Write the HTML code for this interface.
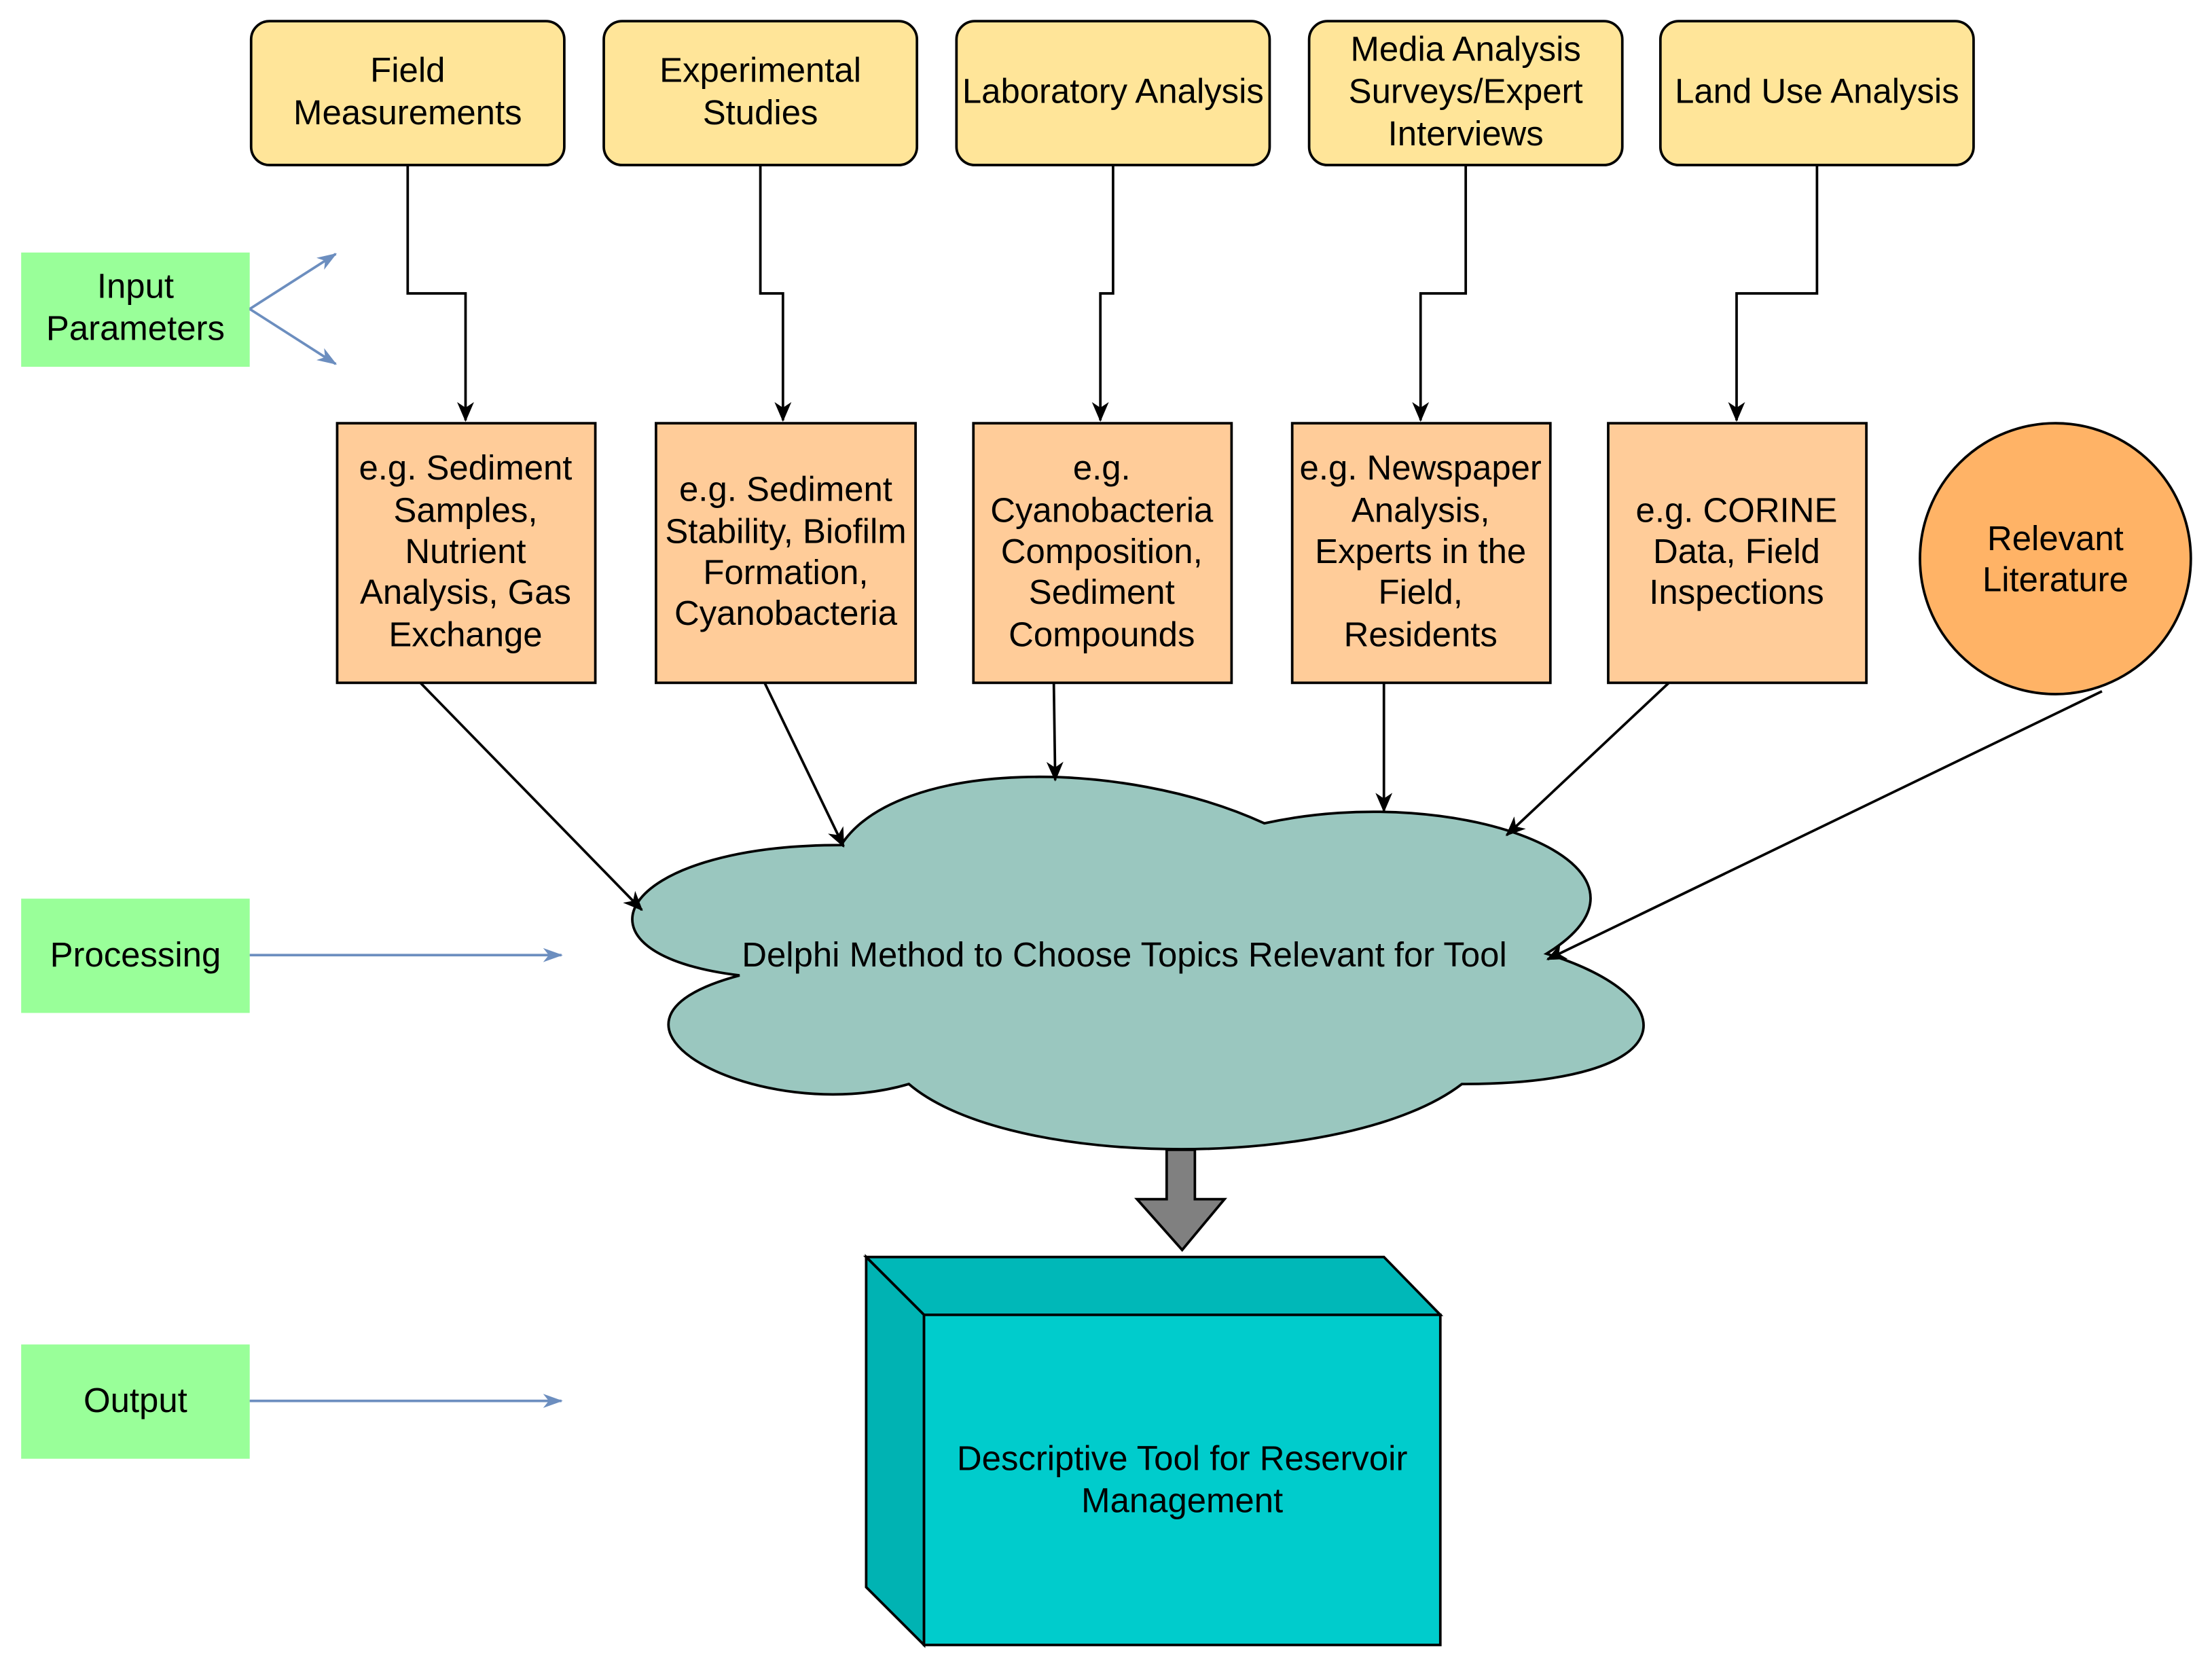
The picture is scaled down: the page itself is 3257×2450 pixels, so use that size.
<!DOCTYPE html>
<html><head><meta charset="utf-8"><style>html,body{margin:0;padding:0;background:#fff}svg{display:block}text{font-family:"Liberation Sans",Arial,sans-serif;font-size:24.5px;fill:#000}</style></head><body>
<svg width="3257" height="2450" viewBox="0 0 1568 1179.5" xmlns="http://www.w3.org/2000/svg">
<defs>
<marker id="ab" markerWidth="14" markerHeight="14" refX="13" refY="7" orient="auto" markerUnits="userSpaceOnUse"><path d="M0,1 L14,7 L0,13 L4,7 Z" fill="#000"/></marker>
<marker id="ablue" markerWidth="14" markerHeight="12" refX="13" refY="6" orient="auto" markerUnits="userSpaceOnUse"><path d="M0,1 L14,6 L0,11 L4,6 Z" fill="#6c8ebf"/></marker>
</defs>
<g stroke="#000" stroke-width="1.8" fill="#ffe599">
<rect x="178" y="15" width="222" height="102" rx="13"/>
<rect x="428" y="15" width="222" height="102" rx="13"/>
<rect x="678" y="15" width="222" height="102" rx="13"/>
<rect x="928" y="15" width="222" height="102" rx="13"/>
<rect x="1177" y="15" width="222" height="102" rx="13"/>
</g>
<g stroke="#000" stroke-width="1.8" fill="#ffcc99">
<rect x="239" y="300" width="183" height="184"/>
<rect x="465" y="300" width="184" height="184"/>
<rect x="690" y="300" width="183" height="184"/>
<rect x="916" y="300" width="183" height="184"/>
<rect x="1140" y="300" width="183" height="184"/>
</g>
<circle cx="1457" cy="396" r="96" fill="#ffb366" stroke="#000" stroke-width="1.8"/>
<g fill="#99ff99">
<rect x="15" y="179" width="162" height="81"/>
<rect x="15" y="637" width="162" height="81"/>
<rect x="15" y="953" width="162" height="81"/>
</g>
<g stroke="#6c8ebf" stroke-width="1.8" fill="none" marker-end="url(#ablue)">
<line x1="177" y1="219" x2="238" y2="180"/>
<line x1="177" y1="219" x2="238" y2="258"/>
<line x1="177" y1="677" x2="398" y2="677"/>
<line x1="177" y1="993" x2="398" y2="993"/>
</g>
<g stroke="#000" stroke-width="1.8" fill="none" marker-end="url(#ab)">
<polyline points="289,117 289,208 330,208 330,298"/>
<polyline points="539,117 539,208 555,208 555,298"/>
<polyline points="789,117 789,208 780,208 780,298"/>
<polyline points="1039,117 1039,208 1007,208 1007,298"/>
<polyline points="1288,117 1288,208 1231,208 1231,298"/>
</g>
<path d="M596.25,599 C436.25,599 396.25,676 524.25,691.4 C396.25,725.3 540.25,799.2 644.25,768.4 C716.25,830 956.25,830 1036.25,768.4 C1196.25,768.4 1196.25,706.8 1096.25,676 C1196.25,614.4 1036.25,552.8 896.25,583.6 C796.25,537.4 636.25,537.4 596.25,599 Z" fill="#9ac7bf" stroke="#000" stroke-width="1.8"/>
<g stroke="#000" stroke-width="1.8" fill="none" marker-end="url(#ab)">
<line x1="298" y1="484" x2="455" y2="645"/>
<line x1="542" y1="484" x2="598" y2="600"/>
<line x1="747" y1="484" x2="748" y2="553"/>
<line x1="981" y1="484" x2="981" y2="575"/>
<line x1="1183" y1="484" x2="1068" y2="592"/>
<line x1="1490" y1="490" x2="1097" y2="680"/>
</g>
<path d="M827,815 L847,815 L847,850 L868,850 L838,886 L806,850 L827,850 Z" fill="#808080" stroke="#000" stroke-width="1.8"/>
<path d="M614,891 L981,891 L1021,932 L655,932 Z" fill="#00b8b8" stroke="#000" stroke-width="1.8"/>
<path d="M614,891 L655,932 L655,1166 L614,1125 Z" fill="#00b3b3" stroke="#000" stroke-width="1.8"/>
<rect x="655" y="932" width="366" height="234" fill="#00cccc" stroke="#000" stroke-width="1.8"/>
<g text-anchor="middle">
<text x="289" y="58">Field</text><text x="289" y="88">Measurements</text>
<text x="539" y="58">Experimental</text><text x="539" y="88">Studies</text>
<text x="789" y="73">Laboratory Analysis</text>
<text x="1039" y="43">Media Analysis</text><text x="1039" y="73">Surveys/Expert</text><text x="1039" y="103">Interviews</text>
<text x="1288" y="73">Land Use Analysis</text>
<text x="330" y="340">e.g. Sediment</text><text x="330" y="370">Samples,</text><text x="330" y="399">Nutrient</text><text x="330" y="428">Analysis, Gas</text><text x="330" y="458">Exchange</text>
<text x="557" y="355">e.g. Sediment</text><text x="557" y="385">Stability, Biofilm</text><text x="557" y="414">Formation,</text><text x="557" y="443">Cyanobacteria</text>
<text x="781" y="340">e.g.</text><text x="781" y="370">Cyanobacteria</text><text x="781" y="399">Composition,</text><text x="781" y="428">Sediment</text><text x="781" y="458">Compounds</text>
<text x="1007" y="340">e.g. Newspaper</text><text x="1007" y="370">Analysis,</text><text x="1007" y="399">Experts in the</text><text x="1007" y="428">Field,</text><text x="1007" y="458">Residents</text>
<text x="1231" y="370">e.g. CORINE</text><text x="1231" y="399">Data, Field</text><text x="1231" y="428">Inspections</text>
<text x="1457" y="390">Relevant</text><text x="1457" y="419">Literature</text>
<text x="96" y="211">Input</text><text x="96" y="241">Parameters</text>
<text x="96" y="685">Processing</text>
<text x="96" y="1001">Output</text>
<text x="797" y="685">Delphi Method to Choose Topics Relevant for Tool</text>
<text x="838" y="1042">Descriptive Tool for Reservoir</text><text x="838" y="1072">Management</text>
</g>
</svg>
</body></html>
